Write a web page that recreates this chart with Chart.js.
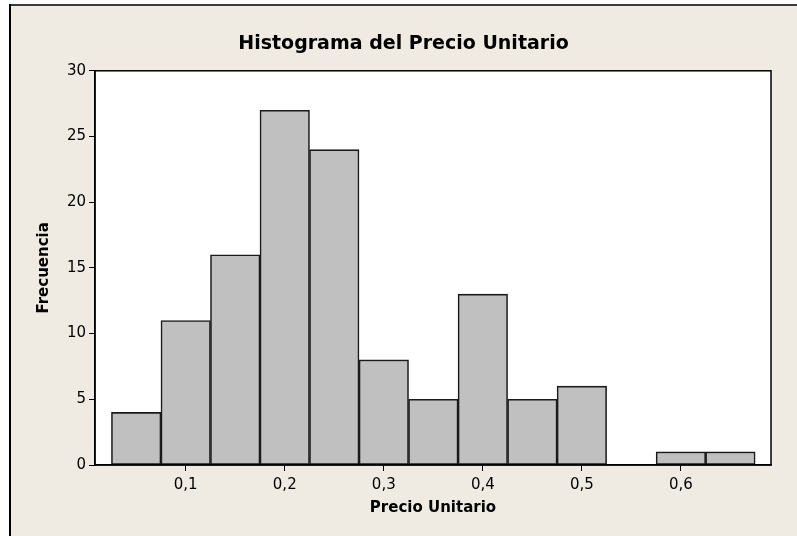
<!DOCTYPE html>
<html>
<head>
<meta charset="utf-8">
<script src="https://cdn.jsdelivr.net/npm/chart.js@4/dist/chart.umd.min.js"></script>
<style>
  html, body { margin: 0; padding: 0; background: #fff; }
  #wrap { width: 797px; height: 536px; }
</style>
</head>
<body>
<div id="wrap"><canvas id="histo" width="797" height="536"></canvas></div>
<script>
// bin centres (width 0.05) and counts
const binCenters = [0.05, 0.10, 0.15, 0.20, 0.25, 0.30, 0.35, 0.40, 0.45, 0.50, 0.55, 0.60, 0.65];
const frequencies = [4, 11, 16, 27, 24, 8, 5, 13, 5, 6, 0, 1, 1];
const xTicks = [0.1, 0.2, 0.3, 0.4, 0.5, 0.6];
const yTicks = [0, 5, 10, 15, 20, 25, 30];

const BEIGE = '#EFEBE2';
const FONT = 'DejaVu Sans';

const frame = {
  id: 'frame',
  beforeDraw(chart) {
    const { ctx, width, height, chartArea: a } = chart;
    ctx.save();
    ctx.fillStyle = '#fff';
    ctx.fillRect(0, 0, width, height);
    ctx.fillStyle = BEIGE;
    ctx.fillRect(10, 5, width - 10, height - 5);
    ctx.fillStyle = '#3a3a3a';
    ctx.fillRect(9, 4, width - 9, 2);
    ctx.fillStyle = '#000';
    ctx.fillRect(9, 4, 2, height - 4);
    ctx.fillStyle = '#fff';
    ctx.fillRect(a.left, a.top, a.right - a.left, a.bottom - a.top);
    ctx.restore();
  },
  afterDatasetsDraw(chart) {
    const { ctx, chartArea: a } = chart;
    ctx.save();
    ctx.strokeStyle = '#000';
    ctx.lineWidth = 1.5;
    ctx.strokeRect(a.left, a.top, a.right - a.left, a.bottom - a.top);
    ctx.restore();
  }
};

const fmt = v => v.toFixed(1).replace('.', ',');

new Chart(document.getElementById('histo'), {
  type: 'bar',
  data: {
    datasets: [{
      label: 'Frecuencia',
      data: binCenters.map((c, i) => ({ x: c, y: frequencies[i] })),
      backgroundColor: '#C0C0C0',
      borderColor: '#1a1a1a',
      borderWidth: 1.6,
      borderSkipped: false,
      barPercentage: 1,
      categoryPercentage: 1
    }]
  },
  plugins: [frame],
  options: {
    responsive: false,
    animation: false,
    layout: { padding: { left: 10, right: 0, top: 0, bottom: 0 } },
    plugins: {
      legend: { display: false },
      tooltip: { enabled: false },
      title: {
        display: true,
        text: 'Histograma del Precio Unitario',
        color: '#000',
        font: { family: FONT, size: 19, weight: 'bold' },
        padding: { top: 33, bottom: 15 }
      }
    },
    scales: {
      x: {
        type: 'linear',
        offset: false,
        min: 0.0084,
        max: 0.691,
        afterBuildTicks: s => { s.ticks = xTicks.map(v => ({ value: v })); },
        afterFit: s => { s.height = 71; },
        ticks: {
          color: '#000',
          font: { family: FONT, size: 15 },
          padding: 5,
          maxRotation: 0,
          autoSkip: false,
          callback: v => fmt(v)
        },
        grid: { offset: false, drawOnChartArea: false, drawTicks: true, tickLength: 6, color: '#000' },
        border: { display: true, color: '#000', width: 1.5 },
        title: {
          display: true,
          text: 'Precio Unitario',
          color: '#000',
          font: { family: FONT, size: 15, weight: 'bold' },
          padding: { top: 0, bottom: 19 }
        }
      },
      y: {
        min: 0,
        max: 30,
        afterBuildTicks: s => { s.ticks = yTicks.map(v => ({ value: v })); },
        afterFit: s => { s.width = 85; },
        ticks: {
          color: '#000',
          font: { family: FONT, size: 15 },
          padding: 3,
          autoSkip: false
        },
        grid: { drawOnChartArea: false, drawTicks: true, tickLength: 6, color: '#000' },
        border: { display: true, color: '#000', width: 1.5 },
        title: {
          display: true,
          text: 'Frecuencia',
          color: '#000',
          font: { family: FONT, size: 15, weight: 'bold' },
          padding: { top: 25, bottom: 0 }
        }
      },
      rightGap: {
        position: 'right',
        type: 'linear',
        display: true,
        afterFit: s => { s.width = 26; },
        ticks: { display: false },
        grid: { display: false },
        border: { display: false }
      }
    }
  }
});
</script>
</body>
</html>
